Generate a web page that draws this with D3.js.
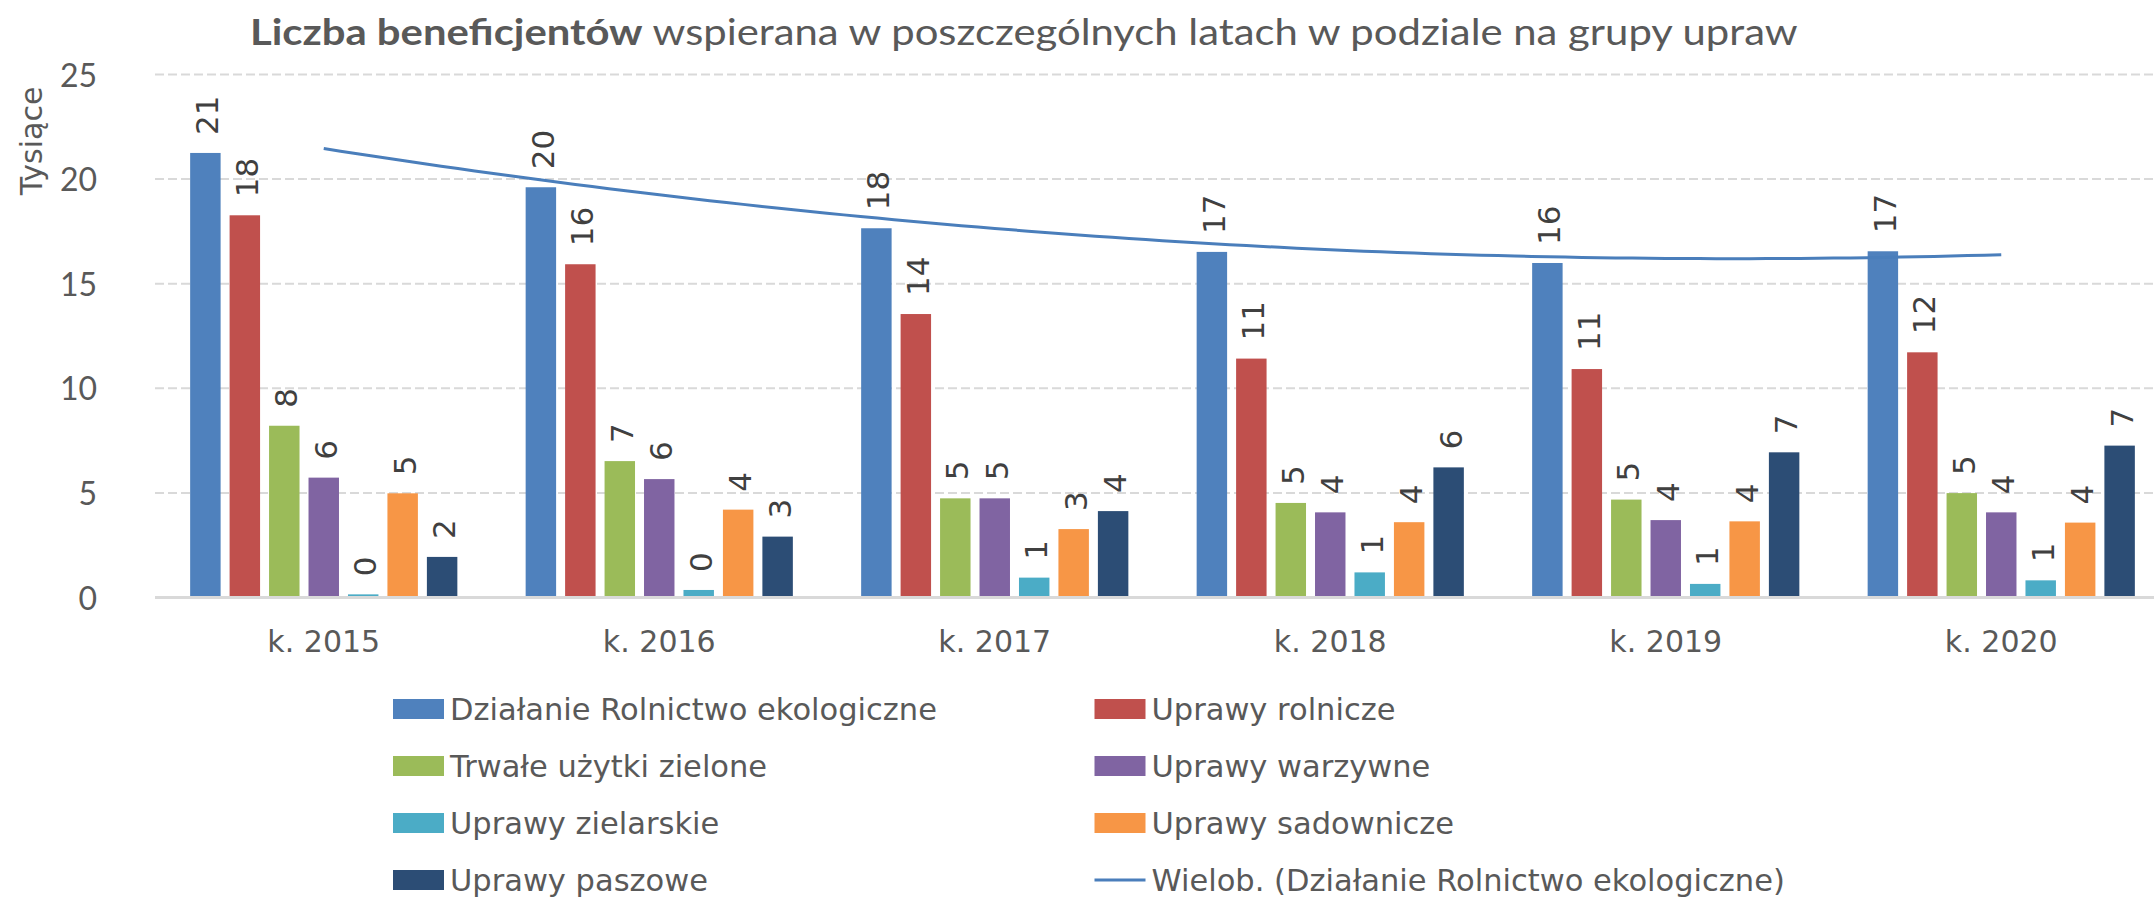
<!DOCTYPE html>
<html><head><meta charset="utf-8">
<script src="https://cdn.jsdelivr.net/npm/d3@7"></script>
<style>html,body{margin:0;padding:0;background:#fff;overflow:hidden}</style>
</head><body>
<svg id="chart" width="2154" height="898"></svg>
<script>
const years = ["k. 2015","k. 2016","k. 2017","k. 2018","k. 2019","k. 2020"];
const seriesNames = ["Działanie Rolnictwo ekologiczne","Uprawy rolnicze","Trwałe użytki zielone","Uprawy warzywne","Uprawy zielarskie","Uprawy sadownicze","Uprawy paszowe"];
const seriesColors = ["#4F81BD","#C0504D","#9BBB59","#8064A2","#4BACC6","#F79646","#2C4D75"];
const vDzialanie   = [21.25, 19.61, 17.65, 16.52, 15.99, 16.55];
const vRolnicze    = [18.27, 15.93, 13.55, 11.42, 10.92, 11.72];
const vTrwale      = [8.21, 6.52, 4.74, 4.52, 4.68, 4.99];
const vWarzywne    = [5.73, 5.66, 4.74, 4.07, 3.70, 4.07];
const vZielarskie  = [0.15, 0.36, 0.95, 1.20, 0.65, 0.82];
const vSadownicze  = [4.98, 4.20, 3.27, 3.60, 3.64, 3.58];
const vPaszowe     = [1.94, 2.91, 4.13, 6.22, 6.94, 7.26];
const yTicks = [0,5,10,15,20,25];
const trendName = "Wielob. (Działanie Rolnictwo ekologiczne)";
const titleBold = "Liczba beneficjentów";
const titleRest = " wspierana w poszczególnych latach w podziale na grupy upraw";
const yAxisTitle = "Tysiące";

const allSeries = [vDzialanie, vRolnicze, vTrwale, vWarzywne, vZielarskie, vSadownicze, vPaszowe];

const svg = d3.select("#chart");
const gridLeft = 155, gridRight = 2154;
const x0 = d3.scaleBand().domain(years).range([156, 2169]).paddingInner(0).paddingOuter(0);
const groupW = 267.2;
const x1 = d3.scaleBand().domain(d3.range(seriesNames.length)).range([0, groupW]).paddingInner(0.228).paddingOuter(0);
const groupOff = (x0.bandwidth() - groupW) / 2;
const y = d3.scaleLinear().domain([0,25]).range([597.5, 74.5]);

// gridlines
svg.append("g").selectAll("line").data(yTicks.filter(d => d > 0)).join("line")
  .attr("x1", gridLeft).attr("x2", gridRight)
  .attr("y1", d => y(d)).attr("y2", d => y(d))
  .attr("stroke", "#d9d9d9").attr("stroke-width", 2).attr("stroke-dasharray", "9,4");

// y axis labels via d3 axis
const yAxis = d3.axisLeft(y).tickValues(yTicks).tickSize(0).tickPadding(0).tickFormat(d3.format("d"));
const gy = svg.append("g").attr("transform", "translate(97,0)").call(yAxis);
gy.select(".domain").remove();
gy.selectAll("text").attr("font-family", "Lato").attr("font-size", 32).attr("fill", "#595959").attr("dy", "0.36em");

// y title
svg.append("text").attr("transform", "translate(42,141) rotate(-90)")
  .attr("text-anchor", "middle").attr("font-family", "DejaVu Sans").attr("font-size", 30)
  .attr("fill", "#595959").text(yAxisTitle);

// bars
const groups = svg.append("g").selectAll("g").data(years).join("g")
  .attr("transform", d => `translate(${x0(d) + groupOff},0)`);
groups.each(function(yr, yi) {
  const g = d3.select(this);
  const vals = allSeries.map((s, si) => ({si, v: s[yi]}));
  g.selectAll("rect").data(vals).join("rect")
    .attr("x", d => x1(d.si)).attr("width", x1.bandwidth())
    .attr("y", d => y(d.v)).attr("height", d => y(0) - y(d.v))
    .attr("fill", d => seriesColors[d.si]);
  g.selectAll("text").data(vals).join("text")
    .attr("transform", d => `translate(${x1(d.si) + x1.bandwidth()/2 + 13},${y(d.v) - 18}) rotate(-90)`)
    .attr("text-anchor", "start").attr("font-family", "DejaVu Sans").attr("font-size", 31)
    .attr("fill", "#404040").text(d => Math.round(d.v));
});

// baseline
svg.append("line").attr("x1", gridLeft).attr("x2", gridRight).attr("y1", y(0)).attr("y2", y(0))
  .attr("stroke", "#d9d9d9").attr("stroke-width", 3);

// x axis labels via d3 axis
const xAxis = d3.axisBottom(x0).tickSize(0).tickPadding(0);
const gx = svg.append("g").attr("transform", "translate(0,652)").call(xAxis);
gx.select(".domain").remove();
gx.selectAll("text").attr("font-family", "DejaVu Sans").attr("font-size", 30).attr("fill", "#595959").attr("dy", 0);

// polynomial (order 2) trendline of first series
function polyFit2(ys) {
  const n = ys.length, xs = d3.range(1, n+1);
  let S = [0,0,0,0,0], T = [0,0,0];
  xs.forEach((x,i) => { for (let k=0;k<5;k++) S[k]+=Math.pow(x,k); for (let k=0;k<3;k++) T[k]+=ys[i]*Math.pow(x,k); });
  const A = [[S[0],S[1],S[2],T[0]],[S[1],S[2],S[3],T[1]],[S[2],S[3],S[4],T[2]]];
  for (let i=0;i<3;i++){ for(let j=i+1;j<3;j++){ const f=A[j][i]/A[i][i]; for(let k=i;k<4;k++) A[j][k]-=f*A[i][k]; } }
  const c=[0,0,0];
  for (let i=2;i>=0;i--){ let s=A[i][3]; for(let k=i+1;k<3;k++) s-=A[i][k]*c[k]; c[i]=s/A[i][i]; }
  return x => c[0] + c[1]*x + c[2]*x*x;
}
const f = polyFit2(vDzialanie);
const xc = d3.scaleLinear().domain([1, years.length]).range([x0(years[0]) + x0.bandwidth()/2, x0(years[years.length-1]) + x0.bandwidth()/2]);
const pts = d3.range(1, years.length + 0.0001, 0.05).map(t => [xc(t), y(f(t))]);
svg.append("path").attr("d", d3.line()(pts)).attr("fill", "none").attr("stroke", "#4A7EBB").attr("stroke-width", 3);

// title
const title = svg.append("text").attr("font-family", "Lato").attr("font-size", 36).attr("fill", "#595959");
title.append("tspan").attr("font-weight", "bold").text(titleBold);
title.append("tspan").text(titleRest);
const tw = title.node().getComputedTextLength();
title.attr("transform", `translate(250,45) scale(${1548/tw},1)`);

// legend
const legendItems = seriesNames.map((n,i) => ({name:n, color:seriesColors[i], type:"rect"}));
legendItems.push({name: trendName, color: "#4A7EBB", type: "line"});
const colX = [393, 1094.5], rowY = [709, 766, 823, 880];
const lg = svg.append("g").selectAll("g").data(legendItems).join("g")
  .attr("transform", (d,i) => `translate(${colX[i%2]},${rowY[Math.floor(i/2)]})`);
lg.filter(d => d.type === "rect").append("rect").attr("x", 0).attr("y", -10).attr("width", 51).attr("height", 20).attr("fill", d => d.color);
lg.filter(d => d.type === "line").append("line").attr("x1", 0).attr("x2", 51).attr("y1", 0).attr("y2", 0).attr("stroke", d => d.color).attr("stroke-width", 3);
lg.append("text").attr("x", 57).attr("y", 0).attr("dy", "0.36em").attr("font-family", "DejaVu Sans").attr("font-size", 30.5).attr("fill", "#595959").text(d => d.name);
</script>
</body></html>
